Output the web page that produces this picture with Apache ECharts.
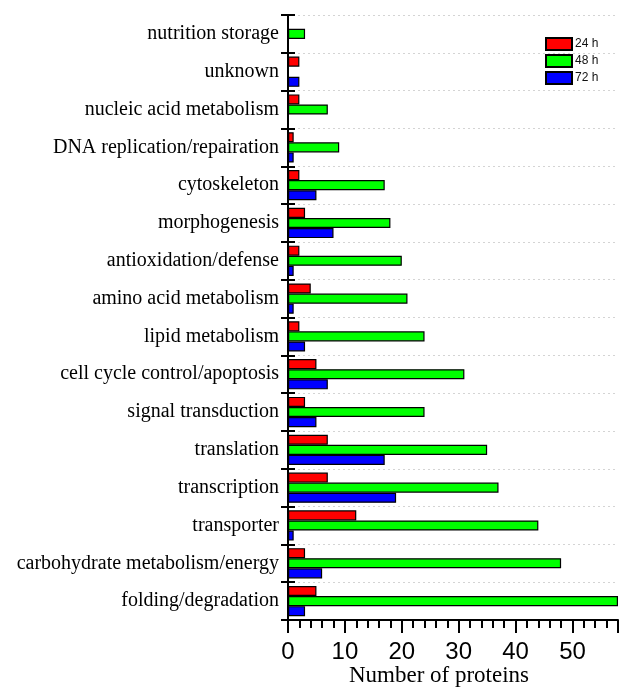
<!DOCTYPE html>
<html>
<head>
<meta charset="utf-8">
<script src="https://cdn.jsdelivr.net/npm/echarts@6/dist/echarts.min.js"></script>
<style>
  html, body { margin: 0; padding: 0; background: #fff; }
  #chart { width: 620px; height: 687px; }
</style>
</head>
<body>
<div id="chart"></div>
<script>
// Functional categories, listed bottom to top along the y axis
const categories = [
  'folding/degradation',
  'carbohydrate metabolism/energy',
  'transporter',
  'transcription',
  'translation',
  'signal transduction',
  'cell cycle control/apoptosis',
  'lipid metabolism',
  'amino acid metabolism',
  'antioxidation/defense',
  'morphogenesis',
  'cytoskeleton',
  'DNA replication/repairation',
  'nucleic acid metabolism',
  'unknown',
  'nutrition storage'
];

// Number of proteins per category at each time point
const h24 = [5, 3, 12, 7, 7, 3, 5, 2, 4, 2, 3, 2, 1, 2, 2, 0];
const h48 = [58, 48, 44, 37, 35, 24, 31, 24, 21, 20, 18, 17, 9, 7, 0, 3];
const h72 = [3, 6, 1, 19, 17, 5, 7, 3, 1, 1, 8, 5, 1, 0, 2, 0];

const seriesNames = ['24 h', '48 h', '72 h'];
const xTicks = [0, 10, 20, 30, 40, 50];

const colors = ['#ff0000', '#00ff00', '#0000ff'];
const serif = '"Liberation Serif", "Times New Roman", serif';
const sans = '"Liberation Sans", Arial, sans-serif';

// empty bars are left out instead of drawn as zero-width outlines
const toBars = arr => arr.map(v => (v === 0 ? '-' : v));

const chart = echarts.init(document.getElementById('chart'), null, { renderer: 'canvas' });

const makeSeries = (name, data, i) => ({
  name: name,
  type: 'bar',
  data: toBars(data),
  barGap: '0%',
  barCategoryGap: '20%',
  itemStyle: { color: colors[i], borderColor: '#000', borderWidth: 1.2 },
  emphasis: { disabled: true }
});

chart.setOption({
  animation: false,
  backgroundColor: '#fff',
  grid: {
    left: 288, right: 2, top: 15, bottom: 67,
    containLabel: false,
    outerBoundsMode: 'none'
  },
  legend: {
    orient: 'vertical',
    left: 540,
    top: 32,
    itemWidth: 26,
    itemHeight: 12,
    itemGap: 3,
    icon: 'rect',
    data: seriesNames,
    textStyle: { fontFamily: sans, fontSize: 12, color: '#111', padding: [0, 0, 0, -2] }
  },
  xAxis: {
    type: 'value',
    min: 0,
    max: 58,
    interval: 10,
    axisLine: { show: true, lineStyle: { color: '#000', width: 2 } },
    axisTick: { show: true, length: 13, lineStyle: { color: '#000', width: 2 } },
    minorTick: { show: true, splitNumber: 5, length: 8, lineStyle: { color: '#000', width: 2 } },
    splitLine: { show: false },
    axisLabel: {
      margin: 20,
      fontFamily: sans,
      fontSize: 24,
      color: '#000',
      formatter: v => (xTicks.indexOf(v) >= 0 ? String(v) : '')
    },
    name: 'Number of proteins',
    nameLocation: 'middle',
    nameGap: 44,
    nameMoveOverlap: false,
    nameTextStyle: { fontFamily: serif, fontSize: 23, color: '#000', padding: [0, 28, 0, 0] }
  },
  yAxis: [
    {
      type: 'category',
      data: categories,
      position: 'left',
      axisLine: { show: true, lineStyle: { color: '#000', width: 2 } },
      axisTick: { show: true, inside: true, length: 7, lineStyle: { color: '#000', width: 2 } },
      splitLine: { show: true, lineStyle: { color: '#d4d4d4', type: [2, 3], width: 1 } },
      axisLabel: { margin: 9, fontFamily: serif, fontSize: 20, color: '#000' }
    },
    {
      // second copy of the category axis, carrying the outward half of each tick
      type: 'category',
      data: categories,
      position: 'left',
      offset: 0,
      axisLine: { show: false },
      axisTick: { show: true, length: 7, lineStyle: { color: '#000', width: 2 } },
      splitLine: { show: false },
      axisLabel: { show: false }
    }
  ],
  series: [
    makeSeries(seriesNames[0], h24, 0),
    makeSeries(seriesNames[1], h48, 1),
    makeSeries(seriesNames[2], h72, 2)
  ]
});
</script>
</body>
</html>
